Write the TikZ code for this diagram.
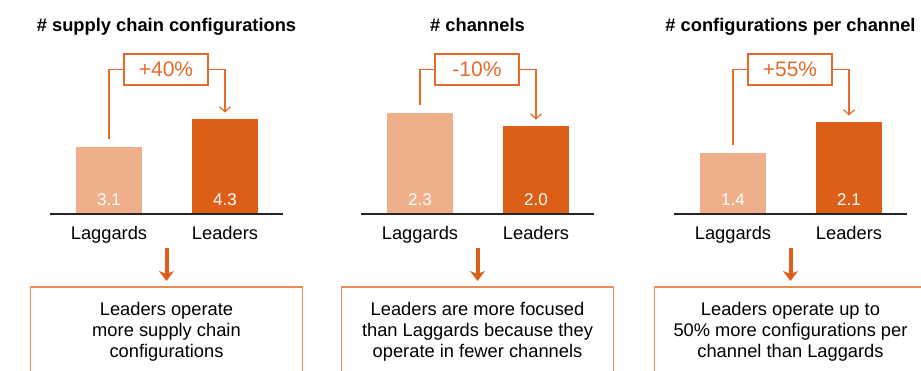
\documentclass[tikz,border=0pt]{standalone}
\usepackage{fontspec}
\setmainfont{Liberation Sans}
\usetikzlibrary{positioning,arrows.meta}
\definecolor{lagcol}{HTML}{EFAF8A}
\definecolor{leadcol}{HTML}{DD5E17}
\definecolor{brkcol}{HTML}{E26B2C}
\definecolor{boxcol}{HTML}{EC8A55}

% one chart: shift, id, title, laggard top, leader top, values, change, remark
\newcommand{\chartpanel}[9]{%
    \begin{scope}[xshift=#1]
        \node[ttl] (#2ttl) at (0,32) {#3};
        \node[bar, fill=lagcol, minimum height={214pt-#4pt}] (#2lag) at (-57.5,214) {};
        \node[bar, fill=leadcol, minimum height={214pt-#5pt}] (#2lead) at (58.5,214) {};
        \node[val] (#2lagv) at ([yshift=8pt]#2lag.south) {#6};
        \node[val] (#2leadv) at ([yshift=8pt]#2lead.south) {#7};
        \coordinate (#2axl) at (-116.5,214);
        \coordinate (#2axr) at (116.5,214);
        \draw[axis] (#2axl) -- (#2axr);
        \node[cat] (#2lagc) at ([yshift=-26pt]#2lag.south) {Laggards};
        \node[cat] (#2leadc) at ([yshift=-26pt]#2lead.south) {Leaders};
        \node[pct] (#2pct) at (-0.5,69.5) {#8};
        \draw[brk] ([yshift=8pt]#2lag.north) |- (#2pct.west);
        \draw[brk,-{Straight Barb[length=5pt,width=11pt]}] (#2pct.east) -| ([yshift=6pt]#2lead.north);
        \draw[frame] (-136,420) |- (136,287) -- (136,420);
        \coordinate (#2ntop) at (0,287);
        \node[note] (#2note) at (0,302.5) {#9};
        \coordinate (#2dn) at (0,248);
        \draw[down] (#2dn) -- ([yshift=6pt]#2ntop);
    \end{scope}}

\begin{document}
\begin{tikzpicture}[x=1pt, y=-1pt,
                    ttl/.style={anchor=base, font=\fontsize{18.3}{21}\selectfont\bfseries},
                    bar/.style={rectangle, inner sep=0pt, anchor=south, minimum width=66pt},
                    val/.style={anchor=base, text=white, font=\fontsize{17}{20}\selectfont},
                    cat/.style={anchor=base, font=\fontsize{18.3}{21}\selectfont},
                    axis/.style={line width=1.3pt, black!85},
                    pct/.style={draw=brkcol, line width=1.2pt, text=brkcol,
                                minimum width=84pt, minimum height=31pt, inner sep=0pt,
                                font=\fontsize{21}{24}\selectfont},
                    brk/.style={draw=brkcol, line width=1.2pt},
                    frame/.style={draw=boxcol, line width=1.2pt},
                    note/.style={anchor=north, inner sep=0pt, align=center,
                                 font=\fontsize{18.3}{21}\selectfont},
                    down/.style={draw=leadcol, line width=4pt,
                                 -{Stealth[length=10pt,width=15pt,inset=3pt]}}]
    \clip (0,0) rectangle (921,371);
    \useasboundingbox (0,0) rectangle (921,371);

    \chartpanel{166.5}{sc}{\# supply chain configurations}{147}{119}{3.1}{4.3}{+40\%}%
        {Leaders operate\\more supply chain\\configurations}
    \chartpanel{477.5}{ch}{\# channels}{113}{126}{2.3}{2.0}{-10\%}%
        {Leaders are more focused\\than Laggards because they\\operate in fewer channels}
    \chartpanel{790.5}{cp}{\# configurations per channel}{153}{122}{1.4}{2.1}{+55\%}%
        {Leaders operate up to\\50\% more configurations per\\channel than Laggards}

\end{tikzpicture}
\end{document}
